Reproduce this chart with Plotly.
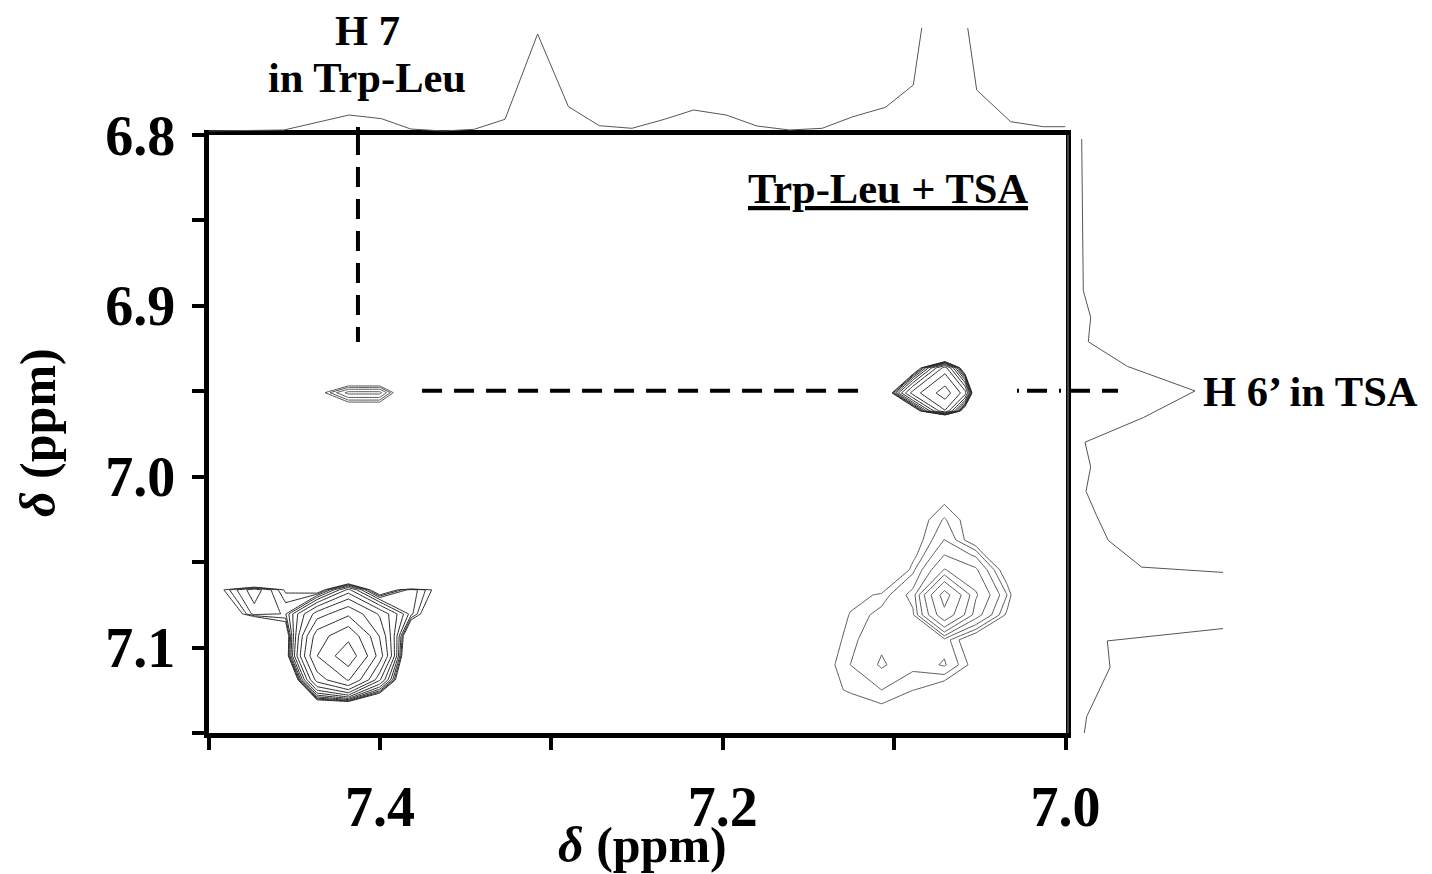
import plotly.graph_objects as go

# ---------------- data ----------------
# contour levels (geometric spacing)
LEVELS = [1.0, 1.3, 1.69, 2.2, 2.86, 3.71, 4.83, 6.28, 8.16, 10.6, 13.79, 17.92]

# peak 1 : H7 (Trp-Leu) / H6' (TSA) cross peak
p1_x = [7.4367, 7.4184, 7.4001, 7.3819]
p1_y = [6.9363, 6.9508, 6.9650]
p1_z = [[-2.8, -2.77, -2.77, -2.8],
        [0.52, 2.4, 2.4, -0.83],
        [-1.2, -1.2, -1.2, -1.2]]

# peak 2 : TSA H6' region
p2_x = [7.1082, 7.0890, 7.0703, 7.0586, 7.0470]
p2_y = [6.9258, 6.9363, 6.9510, 6.9615, 6.9726]
p2_z = [[-10, -10, -10.1, -10, -10],
        [-3, -1, 7, -1, -10],
        [-2.43, 7, 12, 7, -10.1],
        [-3, -1, 8, -1, -10],
        [-25, -25, -25, -25, -25]]

# peak 3 : bottom-left cluster
bl_x = [7.5099, 7.4916, 7.4733, 7.4550, 7.4367, 7.4184, 7.4001, 7.3818, 7.3635]
bl_y = [7.0516, 7.0662, 7.0803, 7.0932, 7.1049, 7.1189, 7.1335, 7.1452]
bl_z = [[-3, -5, -12.2, -9, -5, -8.5, -8, -30, -5],
        [-3, 0.95, 2.6, 0.9, 0.04, 4, -0.33, 2.0, 0.48],
        [-3, -0.5, 1.9, 1.65, 7, 10, 6, 1.86, -1],
        [-3, -3, -5.6, -0.2, 12, 16.66, 8, -1.33, -3],
        [-3, -3, -3, -0.2, 13.74, 21, 9.26, -2.54, -3],
        [-3, -3, -3, -4.2, 9, 14.05, 5, -3, -3],
        [-3, -3, -3, -3, -1, -0.98, -2.5, -3, -3],
        [-3, -3, -3, -3, -3, -3, -3, -3, -3]]

# peak 4 : bottom-right cluster
br_x = [7.1438, 7.1256, 7.1073, 7.0890, 7.0707, 7.0523, 7.0341, 7.0158]
br_y = [7.0019, 7.0136, 7.0253, 7.0370, 7.0458, 7.0545, 7.0692, 7.0809,
        7.0955, 7.1101, 7.1248, 7.1394, 7.1540]
br_z = [[-1, -1, -1, -1, -1, -1, -1, -1],
        [-1, -1, -1, 0.3, 0.9, 0.3, -1, -1],
        [-1, -1, -1, 0.64, 1.35, 0.65, -1, -1],
        [-1, -1, -1, 0.67, 1.7, 0.6, -1, -1],
        [-1, -1, -1, 0.83, 2.2, 1.6, -0.6, -1],
        [-1, -1, -0.5, 1.2, 2.9, 2.3, 0.6, -1],
        [-1, 0.74, 1.1, 1.86, 7.0, 2.96, 1.3, -1],
        [0, 1.05, 1.45, 1.6, 5.83, 2.5, 0.9, -1],
        [0.47, 1.2, 1.6, 1.5, 1.5, 0.42, -1, -1],
        [0.69, 1.3, 1.75, 1.4, 1.75, 0.75, -1, -1],
        [0.65, 1.1, 1.3, 1.02, 0.58, -1, -1, -1],
        [0, 0.3, 0.76, -1, -1, -1, -1, -1],
        [-1, -1, -1, -1, -1, -1, -1, -1]]

# top (F2) projection
top_x = [7.500, 7.456, 7.418, 7.399, 7.382, 7.363, 7.345, 7.327, 7.308, 7.290,
         7.272, 7.253, 7.234, 7.217, 7.198, 7.180, 7.161, 7.142, 7.124, 7.105,
         7.0888, 7.0703, 7.0518, 7.032, 7.013, 7.000]
top_v = [4, 5, 20, 16.3, 6, 4, 5.7, 15.7, 101, 28.3,
         9.3, 6.7, 15.7, 25, 20, 9, 5, 6.7, 18.3, 27.7,
         50, 264, 45, 13.3, 8.3, 8.3]

# right (F1) projection
right_y = [6.8024, 6.8623, 6.8911, 6.9067, 6.9210, 6.9354, 6.9498, 6.9654, 6.9798,
           6.9942, 7.0085, 7.0229, 7.0373, 7.0529, 7.0673, 7.0817, 7.0961, 7.1116,
           7.1260, 7.1404, 7.1500]
right_v = [13.7, 14.3, 15.3, 22.7, 20.3, 59.3, 127, 75.3, 17,
           22.7, 18, 28.7, 40.3, 73.7, 450, 270, 39.3, 42,
           30, 18.7, 16.3]

# guide lines (ppm)
h7_x = 7.4128
h7_y_end = 6.9211
h6_y = 6.9497
h6_seg1 = [7.3754, 7.1187]
h6_seg2 = [7.0283, 7.0]

x_major = [7.4, 7.2, 7.0]
x_minor = [7.5, 7.3, 7.1]
y_major = [6.8, 6.9, 7.0, 7.1]
y_minor = [6.85, 6.95, 7.05, 7.15]

# ---------------- figure ----------------
W, H = 1432, 874
OFF = 8  # page offset of the plot div


def px(x):
    return (x - OFF) / W


def py(y):
    return 1 - (y - OFF) / H


FONT = "Liberation Serif"

fig = go.Figure()

peaks = [(p1_x, p1_y, p1_z, "#555555"),
         (p2_x, p2_y, p2_z, "#2a2a2a"),
         (bl_x, bl_y, bl_z, "#2a2a2a"),
         (br_x, br_y, br_z, "#5a5a5a")]
for gx, gy, gz, col in peaks:
    for lev in LEVELS:
        fig.add_trace(go.Contour(
            x=gx, y=gy, z=gz, autocontour=False,
            contours=dict(start=lev, end=lev, size=1, coloring="none", showlines=True),
            line=dict(color=col, width=1, smoothing=0),
            showscale=False, hoverinfo="skip", xaxis="x", yaxis="y"))

dash = "20px,12px"
fig.add_trace(go.Scatter(x=[h7_x, h7_x], y=[6.8, h7_y_end], mode="lines",
                         line=dict(color="black", width=4, dash=dash),
                         xaxis="x", yaxis="y", hoverinfo="skip"))
fig.add_trace(go.Scatter(x=[h7_x, h7_x], y=[0, 8], mode="lines",
                         line=dict(color="black", width=4),
                         xaxis="x", yaxis="y2", hoverinfo="skip"))
fig.add_trace(go.Scatter(x=h6_seg1, y=[h6_y, h6_y], mode="lines",
                         line=dict(color="black", width=4, dash=dash),
                         xaxis="x", yaxis="y", hoverinfo="skip"))
fig.add_trace(go.Scatter(x=h6_seg2, y=[h6_y, h6_y], mode="lines",
                         line=dict(color="black", width=4, dash="2px,8px,20px,12px"),
                         xaxis="x", yaxis="y", hoverinfo="skip"))
fig.add_trace(go.Scatter(x=[2, 50], y=[h6_y, h6_y], mode="lines",
                         line=dict(color="black", width=4, dash=dash),
                         xaxis="x3", yaxis="y", hoverinfo="skip"))

fig.add_trace(go.Scatter(x=top_x, y=top_v, mode="lines",
                         line=dict(color="#555555", width=1),
                         xaxis="x", yaxis="y2", hoverinfo="skip"))
fig.add_trace(go.Scatter(x=right_v, y=right_y, mode="lines",
                         line=dict(color="#555555", width=1),
                         xaxis="x3", yaxis="y", hoverinfo="skip"))

tickfont = dict(family=FONT, size=56, color="black", weight="bold")
fig.update_layout(
    width=W, height=H,
    margin=dict(l=0, r=0, t=0, b=0),
    paper_bgcolor="white", plot_bgcolor="white",
    showlegend=False,
    xaxis=dict(domain=[px(208.5), px(1065.5)], range=[7.5, 7.0], anchor="y",
               showline=True, linewidth=5, linecolor="black", mirror=True,
               ticks="outside", ticklen=12, tickwidth=4, tickcolor="black",
               tickmode="array", tickvals=x_major, ticktext=["7.4", "7.2", "7.0"],
               tickfont=tickfont, ticklabelstandoff=9,
               minor=dict(tickmode="array", tickvals=x_minor, ticks="outside",
                          ticklen=12, tickwidth=4, tickcolor="black"),
               showgrid=False, zeroline=False, automargin=False),
    yaxis=dict(domain=[py(733), py(135)], range=[7.15, 6.8], anchor="x",
               showline=True, linewidth=5, linecolor="black", mirror=True,
               ticks="outside", ticklen=12, tickwidth=4, tickcolor="black",
               tickmode="array", tickvals=y_major, ticktext=["6.8", "6.9", "7.0", "7.1"],
               tickfont=tickfont, ticklabelstandoff=5,
               minor=dict(tickmode="array", tickvals=y_minor, ticks="outside",
                          ticklen=12, tickwidth=4, tickcolor="black"),
               showgrid=False, zeroline=False, automargin=False),
    yaxis2=dict(domain=[py(135), py(28)], range=[0, 107], anchor="x", visible=False),
    xaxis3=dict(domain=[px(1068), px(1223)], range=[0, 155], anchor="y", visible=False),
)

fig.add_shape(type="line", xref="paper", yref="y", x0=px(1068), x1=px(1068),
              y0=6.8, y1=7.15, line=dict(color="#888888", width=1))

afont = dict(family=FONT, size=42.5, color="black", weight="bold")
fig.add_annotation(text="H 7", x=px(367), y=py(30), xref="paper", yref="paper",
                   showarrow=False, font=afont, xanchor="center", yanchor="middle")
fig.add_annotation(text="in Trp-Leu", x=px(367), y=py(78), xref="paper", yref="paper",
                   showarrow=False, font=afont, xanchor="center", yanchor="middle")
fig.add_annotation(text="Trp-Leu + TSA", x=px(888), y=py(188), xref="paper", yref="paper",
                   showarrow=False, font=dict(afont, lineposition="under"),
                   xanchor="center", yanchor="middle")
fig.add_annotation(text="H 6’ in TSA", x=px(1201), y=py(391), xref="paper", yref="paper",
                   showarrow=False, font=afont, xanchor="left", yanchor="middle")

tfont = dict(family=FONT, size=50, color="black", weight="bold")
fig.add_annotation(text="<i>δ</i> (ppm)", x=px(642), y=py(845), xref="paper", yref="paper",
                   showarrow=False, font=tfont, xanchor="center", yanchor="middle")
fig.add_annotation(text="<i>δ</i> (ppm)", x=px(38), y=py(433), xref="paper", yref="paper",
                   showarrow=False, font=tfont, textangle=-90,
                   xanchor="center", yanchor="middle")

fig.write_html("out.html")
